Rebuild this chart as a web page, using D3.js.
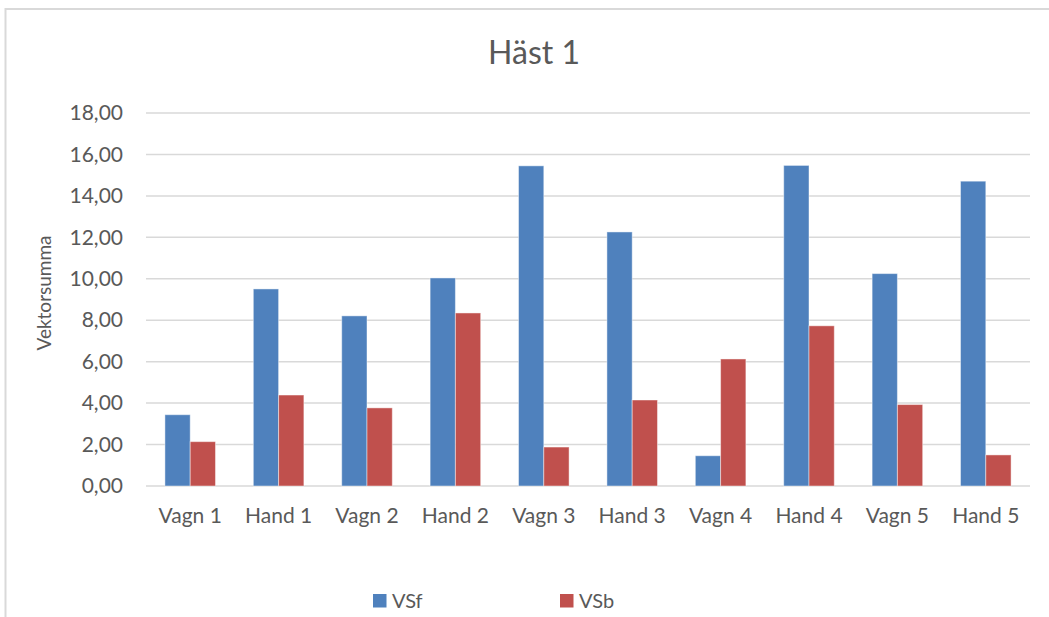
<!DOCTYPE html>
<html><head><meta charset="utf-8">
<script src="https://cdn.jsdelivr.net/npm/d3@7"></script>
<style>html,body{margin:0;padding:0;background:#fff;}svg{display:block;font-family:Lato,"Open Sans",sans-serif;}</style>
</head><body>
<script>
const categories = ["Vagn 1","Hand 1","Vagn 2","Hand 2","Vagn 3","Hand 3","Vagn 4","Hand 4","Vagn 5","Hand 5"];
const seriesNames = ["VSf","VSb"];
const vsf = [3.44, 9.51, 8.21, 10.04, 15.45, 12.26, 1.46, 15.47, 10.25, 14.71];
const vsb = [2.14, 4.39, 3.77, 8.35, 1.88, 4.15, 6.13, 7.73, 3.93, 1.50];
const yTicks = [0,2,4,6,8,10,12,14,16,18];
const colors = ["#4F81BD","#C0504D"];

const W = 1049, H = 617;
const m = {left:146, right:19, top:113, bottom:131};
const svg = d3.select("body").append("svg").attr("width",W).attr("height",H);

// border
svg.append("path").attr("d",`M5.5,${H+5} L5.5,9 L${W+5},9`).attr("fill","none").attr("stroke","#D9D9D9").attr("stroke-width",2);

const x0 = d3.scaleBand().domain(categories).range([m.left, W-m.right]).paddingInner(0.428).paddingOuter(0.214);
const x1 = d3.scaleBand().domain(seriesNames).range([0, x0.bandwidth()]);
const y = d3.scaleLinear().domain([0,18]).range([H-m.bottom, m.top]);

// gridlines
svg.append("g").selectAll("line").data(yTicks).join("line")
  .attr("x1",m.left).attr("x2",W-m.right)
  .attr("y1",d=>y(d)).attr("y2",d=>y(d))
  .attr("stroke","#D9D9D9").attr("stroke-width",1.5);

// y axis labels
const yAxis = d3.axisLeft(y).tickValues(yTicks).tickSize(0).tickPadding(23)
  .tickFormat(d=>d3.format(".2f")(d).replace(".",","));
const ya = svg.append("g").attr("transform",`translate(${m.left},0)`).call(yAxis);
ya.select(".domain").remove();
ya.selectAll("text").attr("fill","#595959").style("font-size","21px").style("font-family","Lato");

// bars
const data = categories.map((c,i)=>({cat:c, vals:[{k:"VSf",v:vsf[i]},{k:"VSb",v:vsb[i]}]}));
const g = svg.append("g").selectAll("g").data(data).join("g").attr("transform",d=>`translate(${x0(d.cat)},0)`);
g.selectAll("rect").data(d=>d.vals).join("rect")
  .attr("x",d=>x1(d.k)).attr("width",x1.bandwidth())
  .attr("y",d=>y(d.v)).attr("height",d=>y(0)-y(d.v))
  .attr("fill",(d,i)=>colors[i])
  .attr("stroke","rgba(255,255,255,0.45)").attr("stroke-width",1);

// x axis
const xAxis = d3.axisBottom(x0).tickSize(0).tickPadding(22);
const xa = svg.append("g").attr("transform",`translate(0,${y(0)})`).call(xAxis);
xa.select(".domain").remove();
xa.selectAll("text").attr("fill","#595959").style("font-size","21px").style("font-family","Lato");

// title
svg.append("text").attr("x",534).attr("y",64).attr("text-anchor","middle")
  .attr("fill","#595959").style("font-size","32px").text("Häst 1");

// y title
svg.append("text").attr("transform","translate(51,293) rotate(-90)").attr("text-anchor","middle")
  .attr("fill","#595959").style("font-size","19px").text("Vektorsumma");

// legend
const legX = [373, 560];
const leg = svg.append("g").selectAll("g").data(seriesNames).join("g")
  .attr("transform",(d,i)=>`translate(${legX[i]},594)`);
leg.append("rect").attr("width",13.5).attr("height",13.5).attr("fill",(d,i)=>colors[i]);
leg.append("text").attr("x",19).attr("y",13.5).attr("fill","#595959").style("font-size","20px").text(d=>d);
</script>
</body></html>
